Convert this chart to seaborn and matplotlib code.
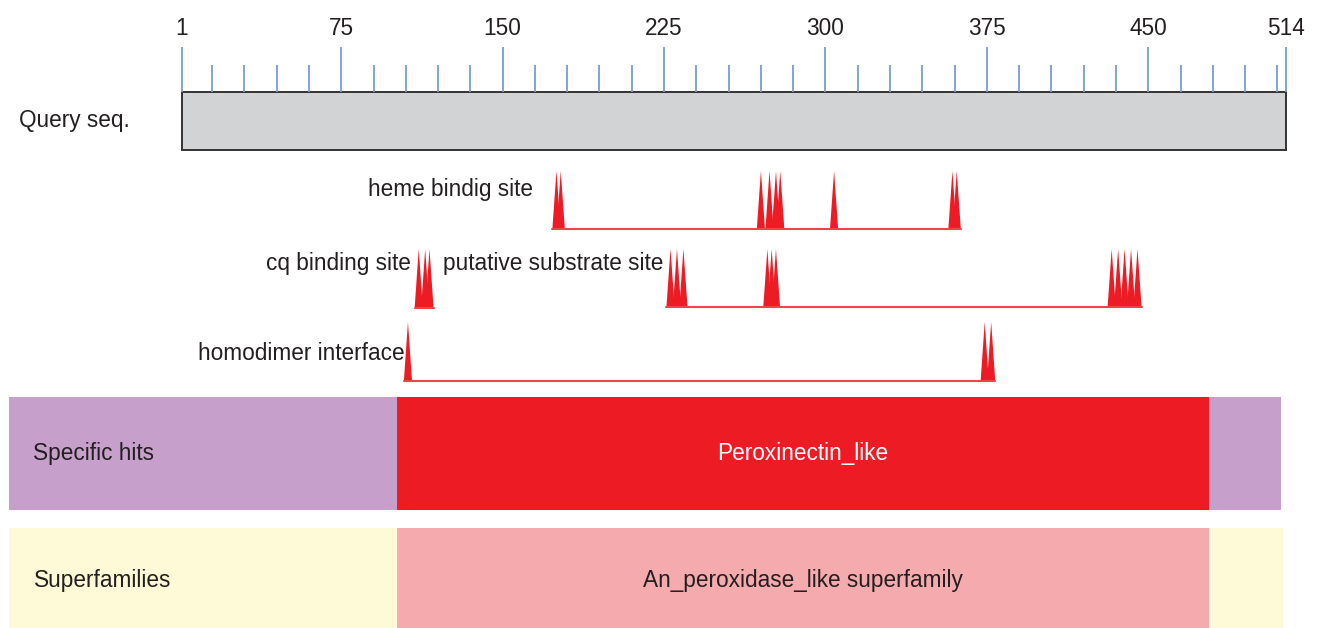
import matplotlib
matplotlib.use("Agg")
import pandas as pd
import matplotlib.pyplot as plt
import matplotlib.transforms as mtransforms
import seaborn as sns

# ---- data (residue numbers) ----
seq_len = 514
major_ticks = [1, 75, 150, 225, 300, 375, 450, 514]
minor_ticks = [t for t in range(15, seq_len, 15) if t % 75 != 0]

heme_sites = [175, 177, 270, 274, 277, 279, 304, 359, 361]
cq_sites = [111, 114, 116]
substrate_sites = [228, 231, 234, 273, 275, 277, 433, 436, 439, 442, 445]
homodimer_sites = [106, 374, 377]

hit_name = "Peroxinectin_like"
hit_range = [101, 478]
superfamily_name = "An_peroxidase_like superfamily"
superfamily_range = [101, 478]

# ---- style ----
sns.set_theme(style="white")
plt.rcParams['font.family'] = ['Liberation Sans', 'DejaVu Sans']
TXT = '#231f20'
RED = '#ed1c24'
TICK = '#7b9bd4'
FS = 16.3

fig = plt.figure(figsize=(13.21, 6.28), dpi=100)
ax = fig.add_axes([0, 0, 1, 1])
px = 1104 / (seq_len - 1)          # pixels per residue
ax.set_xlim(1 - 182 / px, 1 + (1321 - 182) / px)
ax.set_ylim(628, 0)
ax.axis('off')
band = mtransforms.blended_transform_factory(ax.transAxes, ax.transData)

# ruler
ax.vlines(major_ticks, 47, 92, color=TICK, lw=1.3)
ax.vlines(minor_ticks, 65, 92, color=TICK, lw=1.3)
for t in major_ticks:
    ax.text(t, 35, str(t), ha='center', va='baseline', fontsize=FS, color=TXT)

# query sequence bar
ax.barh(121, seq_len - 1, left=1, height=58, color='#d1d3d4',
        edgecolor='#333333', lw=1.4)
ax.text(19 / 1321, 127.5, 'Query seq.', transform=band, fontsize=FS,
        color=TXT, va='baseline')

# feature tracks: sites, label, label x, align, label baseline, peak top, base
tracks = [
    (heme_sites, 'heme bindig site', 164.0, 'right', 196, 171, 229),
    (cq_sites, 'cq binding site', 107.4, 'right', 270, 249, 308),
    (substrate_sites, 'putative substrate site', 122.5, 'left', 270, 249, 307),
    (homodimer_sites, 'homodimer interface', 104.6, 'right', 360, 322, 381),
]
hw = 1.9
for sites, label, lx, ha, ly, top, base in tracks:
    line = pd.DataFrame({'pos': [min(sites) - hw, max(sites) + hw],
                         'y': [base, base]})
    sns.lineplot(data=line, x='pos', y='y', ax=ax, color='#ef4249', lw=1.5)
    for s in sites:
        ax.fill([s - hw, s, s + hw], [base, top, base], color=RED, lw=0)
    ax.text(lx, ly, label, ha=ha, va='baseline', fontsize=FS, color=TXT)

# specific hits / superfamilies panels
ax.barh(453.5, 1272 / 1321, left=9 / 1321, height=113, color='#c69fcb',
        transform=band, lw=0)
ax.barh(453.5, hit_range[1] - hit_range[0], left=hit_range[0], height=113,
        color=RED, lw=0)
ax.text(sum(hit_range) / 2, 460, hit_name, ha='center', va='baseline',
        fontsize=FS, color='white')
ax.text(33 / 1321, 460, 'Specific hits', transform=band, fontsize=FS,
        color=TXT, va='baseline')

ax.barh(577.5, 1274 / 1321, left=9 / 1321, height=100, color='#fef9d6',
        transform=band, lw=0)
ax.barh(577.5, superfamily_range[1] - superfamily_range[0],
        left=superfamily_range[0], height=100, color='#f5aaad', lw=0)
ax.text(sum(superfamily_range) / 2, 587.3, superfamily_name, ha='center',
        va='baseline', fontsize=FS, color=TXT)
ax.text(34 / 1321, 587.3, 'Superfamilies', transform=band, fontsize=FS,
        color=TXT, va='baseline')

fig.savefig('out.png', dpi=100)
